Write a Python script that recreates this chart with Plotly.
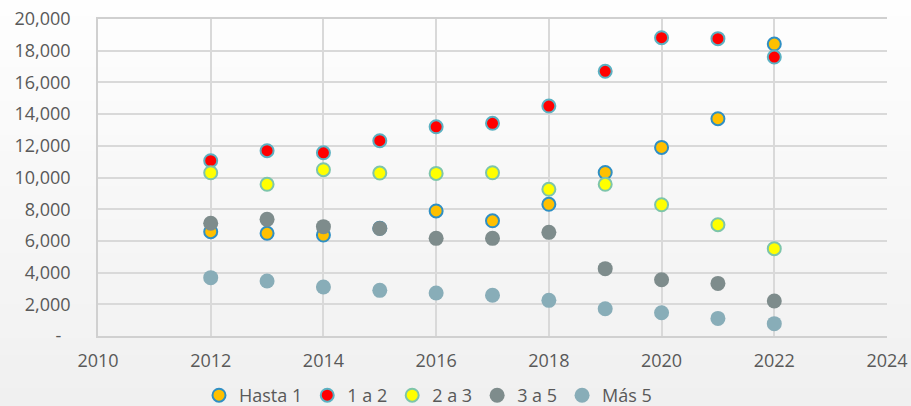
import plotly.graph_objects as go

years = [2012, 2013, 2014, 2015, 2016, 2017, 2018, 2019, 2020, 2021, 2022]
hasta_1 = [6580, 6480, 6370, 6800, 7890, 7270, 8310, 10320, 11900, 13710, 18420]
uno_a_dos = [11060, 11690, 11560, 12320, 13200, 13420, 14510, 16700, 18820, 18760, 17600]
dos_a_tres = [10300, 9570, 10490, 10280, 10260, 10300, 9255, 9570, 8280, 7020, 5510]
tres_a_cinco = [7110, 7360, 6900, 6790, 6160, 6160, 6540, 4250, 3550, 3320, 2210]
mas_cinco = [3680, 3470, 3090, 2880, 2710, 2570, 2250, 1720, 1470, 1110, 780]

series_names = ["Hasta 1", "1 a 2", "2 a 3", "3 a 5", "Más 5"]
y_ticks = [0, 2000, 4000, 6000, 8000, 10000, 12000, 14000, 16000, 18000, 20000]
y_tick_labels = ["-\u00a0\u00a0", "2,000", "4,000", "6,000", "8,000", "10,000",
                 "12,000", "14,000", "16,000", "18,000", "20,000"]
x_ticks = [2010, 2012, 2014, 2016, 2018, 2020, 2022, 2024]

styles = [
    dict(fill="#FFC000", line="#2F8FC4", lw=2, size=13),
    dict(fill="#FF0000", line="#5BB1C2", lw=2, size=13),
    dict(fill="#FFFF00", line="#7DC5AA", lw=2, size=13),
    dict(fill="#7E8C8C", line="#7E8C8C", lw=0, size=15),
    dict(fill="#88ADB8", line="#88ADB8", lw=0, size=15),
]

fig = go.Figure()
for name, vals, st in zip(series_names,
                          [hasta_1, uno_a_dos, dos_a_tres, tres_a_cinco, mas_cinco],
                          styles):
    fig.add_trace(go.Scatter(
        x=years, y=vals, name=name, mode="markers",
        marker=dict(color=st["fill"], size=st["size"],
                    line=dict(color=st["line"], width=st["lw"])),
    ))

# subtle vertical gradient background (chart area)
W, H = 911, 406
ml, mr, mt, mb = 98, 24, 19, 70
pw, ph = W - ml - mr, H - mt - mb
n = 24
shapes = []
top = (254, 254, 254)
bot = (240, 240, 240)
for i in range(n):
    py0 = H * i / n
    py1 = H * (i + 1) / n
    t = (i + 0.5) / n
    c = tuple(round(top[k] + (bot[k] - top[k]) * t) for k in range(3))
    shapes.append(dict(
        type="rect", xref="paper", yref="paper", layer="below",
        x0=-ml / pw - 0.01, x1=1 + mr / pw + 0.01,
        y0=(H - mb - py1) / ph - 0.002, y1=(H - mb - py0) / ph + 0.002,
        fillcolor="rgb(%d,%d,%d)" % c, line=dict(width=0),
    ))

font_family = "Open Sans"
fig.update_layout(
    width=W, height=H,
    margin=dict(l=ml, r=mr, t=mt, b=mb, autoexpand=False),
    paper_bgcolor="#f7f7f7",
    plot_bgcolor="rgba(0,0,0,0)",
    shapes=shapes,
    font=dict(family=font_family, size=18, color="#595959"),
    showlegend=True,
    legend=dict(orientation="h", x=(428 - ml) / pw, xanchor="center",
                y=-(mb + 8) / ph, yanchor="bottom",
                font=dict(size=18, color="#595959"), bgcolor="rgba(0,0,0,0)",
                itemclick=False),
    xaxis=dict(range=[2010, 2024], tickvals=x_ticks, showgrid=True,
               gridcolor="#d9d9d9", gridwidth=1.5, zeroline=False,
               showline=True, linecolor="#d0d0d0", linewidth=1.5, mirror=True,
               ticks="", ticklabelstandoff=8, automargin=False,
               tickfont=dict(size=18, color="#595959")),
    yaxis=dict(range=[0, 20000], tickvals=y_ticks, ticktext=y_tick_labels,
               showgrid=True, gridcolor="#d9d9d9", gridwidth=1.5, zeroline=False,
               showline=True, linecolor="#d0d0d0", linewidth=1.5,
               ticks="", ticklabelstandoff=22, automargin=False,
               tickfont=dict(size=18, color="#595959")),
)

fig.write_html("out.html",
               config={"displayModeBar": False},
               post_script="document.body.style.margin='0';"
                           "document.body.style.overflow='hidden';")
